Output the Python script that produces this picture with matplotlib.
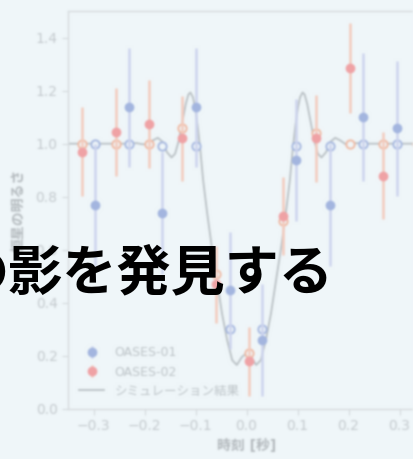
import numpy as np
import matplotlib.pyplot as plt
from matplotlib.lines import Line2D

plt.rcParams['font.family'] = ['DejaVu Sans', 'Noto Sans CJK JP']

# OASES-01 observations (time [s], brightness, error) and model at those times
blue_t = [-0.297, -0.231, -0.165, -0.099, -0.033, 0.031, 0.097, 0.163, 0.229, 0.295]
blue_obs = [0.77, 1.137, 0.74, 1.137, 0.448, 0.26, 0.94, 0.77, 1.10, 1.058]
blue_err = [0.23, 0.225, 0.23, 0.225, 0.22, 0.21, 0.23, 0.23, 0.24, 0.255]
blue_model = [1.0, 1.0, 0.99, 0.99, 0.30, 0.30, 0.99, 0.99, 1.0, 1.0]

# OASES-02
red_t = [-0.323, -0.256, -0.191, -0.126, -0.060, 0.005, 0.072, 0.136, 0.203, 0.268]
red_obs = [0.97, 1.043, 1.075, 1.02, 0.47, 0.18, 0.726, 1.02, 1.284, 0.88]
red_err = [0.167, 0.165, 0.165, 0.16, 0.145, 0.13, 0.147, 0.165, 0.17, 0.165]
red_model_t = [-0.323, -0.256, -0.191, -0.126, -0.060, 0.005, 0.072, 0.136, 0.203, 0.268, 0.334]
red_model = [1.0, 1.0, 1.0, 1.06, 0.51, 0.21, 0.71, 1.04, 1.0, 1.0, 1.0]

# diffraction light curve from the simulation
sim_t = [-0.36, -0.24, -0.215, -0.205, -0.195, -0.184, -0.174, -0.165, -0.156, -0.147,
         -0.140, -0.133, -0.126, -0.119, -0.114, -0.110, -0.105, -0.101, -0.096, -0.091,
         -0.085, -0.077, -0.068, -0.058, -0.048, -0.038, -0.028, -0.019, -0.009, 0.0,
         0.009, 0.019, 0.028, 0.038, 0.048, 0.058, 0.068, 0.077, 0.085, 0.091,
         0.096, 0.101, 0.105, 0.110, 0.114, 0.119, 0.126, 0.133, 0.140, 0.147,
         0.156, 0.165, 0.174, 0.184, 0.195, 0.205, 0.215, 0.24, 0.36]
sim_v = [1.0, 1.0, 1.002, 0.998, 0.997, 1.012, 1.022, 1.008, 0.968, 0.948,
         0.962, 1.01, 1.08, 1.15, 1.185, 1.193, 1.175, 1.137, 1.07, 0.986,
         0.862, 0.737, 0.61, 0.486, 0.36, 0.26, 0.184, 0.166, 0.196, 0.21,
         0.196, 0.166, 0.184, 0.26, 0.36, 0.486, 0.61, 0.737, 0.862, 0.986,
         1.07, 1.137, 1.175, 1.193, 1.185, 1.15, 1.08, 1.01, 0.962, 0.948,
         0.968, 1.008, 1.022, 1.012, 0.997, 0.998, 1.002, 1.0, 1.0]

xticks = [-0.3, -0.2, -0.1, 0.0, 0.1, 0.2, 0.3]
yticks = [0.0, 0.2, 0.4, 0.6, 0.8, 1.0, 1.2, 1.4]

BG = '#eff6f9'
BLUE = '#a3b5df'
BLUE_ERR = '#cdd4ee'
RED = '#efa2a5'
RED_ERR = '#f5cbbd'
RED_OPEN = '#f1b79f'
GREY = '#c3c9cd'


def soften(img, dpi):
    # small gaussian blur, done on premultiplied colour
    pad = 4
    sigma = 1.0
    a = np.pad(img, ((pad, pad), (pad, pad), (0, 0)))
    k = np.exp(-0.5 * (np.arange(-3, 4) / sigma) ** 2)
    k /= k.sum()
    pre = np.concatenate([a[..., :3] * a[..., 3:], a[..., 3:]], axis=2)
    for axis in (0, 1):
        out = np.zeros_like(pre)
        for i, w in enumerate(k):
            out += w * np.roll(pre, i - 3, axis=axis)
        pre = out
    alpha = pre[..., 3:]
    rgb = np.clip(pre[..., :3] / np.maximum(alpha, 1e-6), 0, 1)
    return np.concatenate([rgb, alpha], axis=2), -pad, -pad


fig = plt.figure(figsize=(4.14, 4.59), dpi=100, facecolor=BG)
ax = fig.add_axes([68 / 414, 50 / 459, 357 / 414, 398 / 459])
ax.set_facecolor(BG)

sim_line, = ax.plot(sim_t, sim_v, color='#b9c0c4', lw=1.3, zorder=2)

ax.plot(blue_t, blue_model, 'o', mfc=BG, mec=BLUE, mew=1.3, ms=6, zorder=3)
ax.plot(red_model_t, red_model, 'o', mfc=BG, mec=RED_OPEN, mew=1.3, ms=6, zorder=3)

eb1 = ax.errorbar(blue_t, blue_obs, yerr=blue_err, fmt='o', color=BLUE, ecolor=BLUE_ERR,
                  elinewidth=1.8, ms=6, zorder=4)
eb2 = ax.errorbar(red_t, red_obs, yerr=red_err, fmt='o', color=RED, ecolor=RED_ERR,
                  elinewidth=1.8, ms=6, zorder=4)

ax.set_xlim(-0.35, 0.35)
ax.set_ylim(0.0, 1.5)
ax.set_xticks(xticks)
ax.set_yticks(yticks)
ax.tick_params(colors='#d3d8db', labelcolor=GREY, labelsize=10, length=4, width=0.8)
for s in ax.spines.values():
    s.set_color('#d6dbde')
    s.set_linewidth(1.0)

ax.set_xlabel('時刻 [秒]', fontsize=10, color='#b3b9bd', fontweight='bold', labelpad=4)
ax.set_ylabel('恒星の明るさ', fontsize=10, color='#b3b9bd', fontweight='bold', labelpad=7)

ax.legend([eb1, eb2, sim_line], ['OASES-01', 'OASES-02', 'シミュレーション結果'],
          loc='lower left', frameon=False, fontsize=9, labelcolor='#bcc3c7')

ax.set_agg_filter(soften)

fig.text(333 / 414, 1 - 274 / 459, 'の影を発見する', ha='right', va='center',
         fontsize=39, fontweight='bold', family=['Noto Sans CJK JP'], color='black')

fig.savefig('out.png', dpi=100, facecolor=BG)
